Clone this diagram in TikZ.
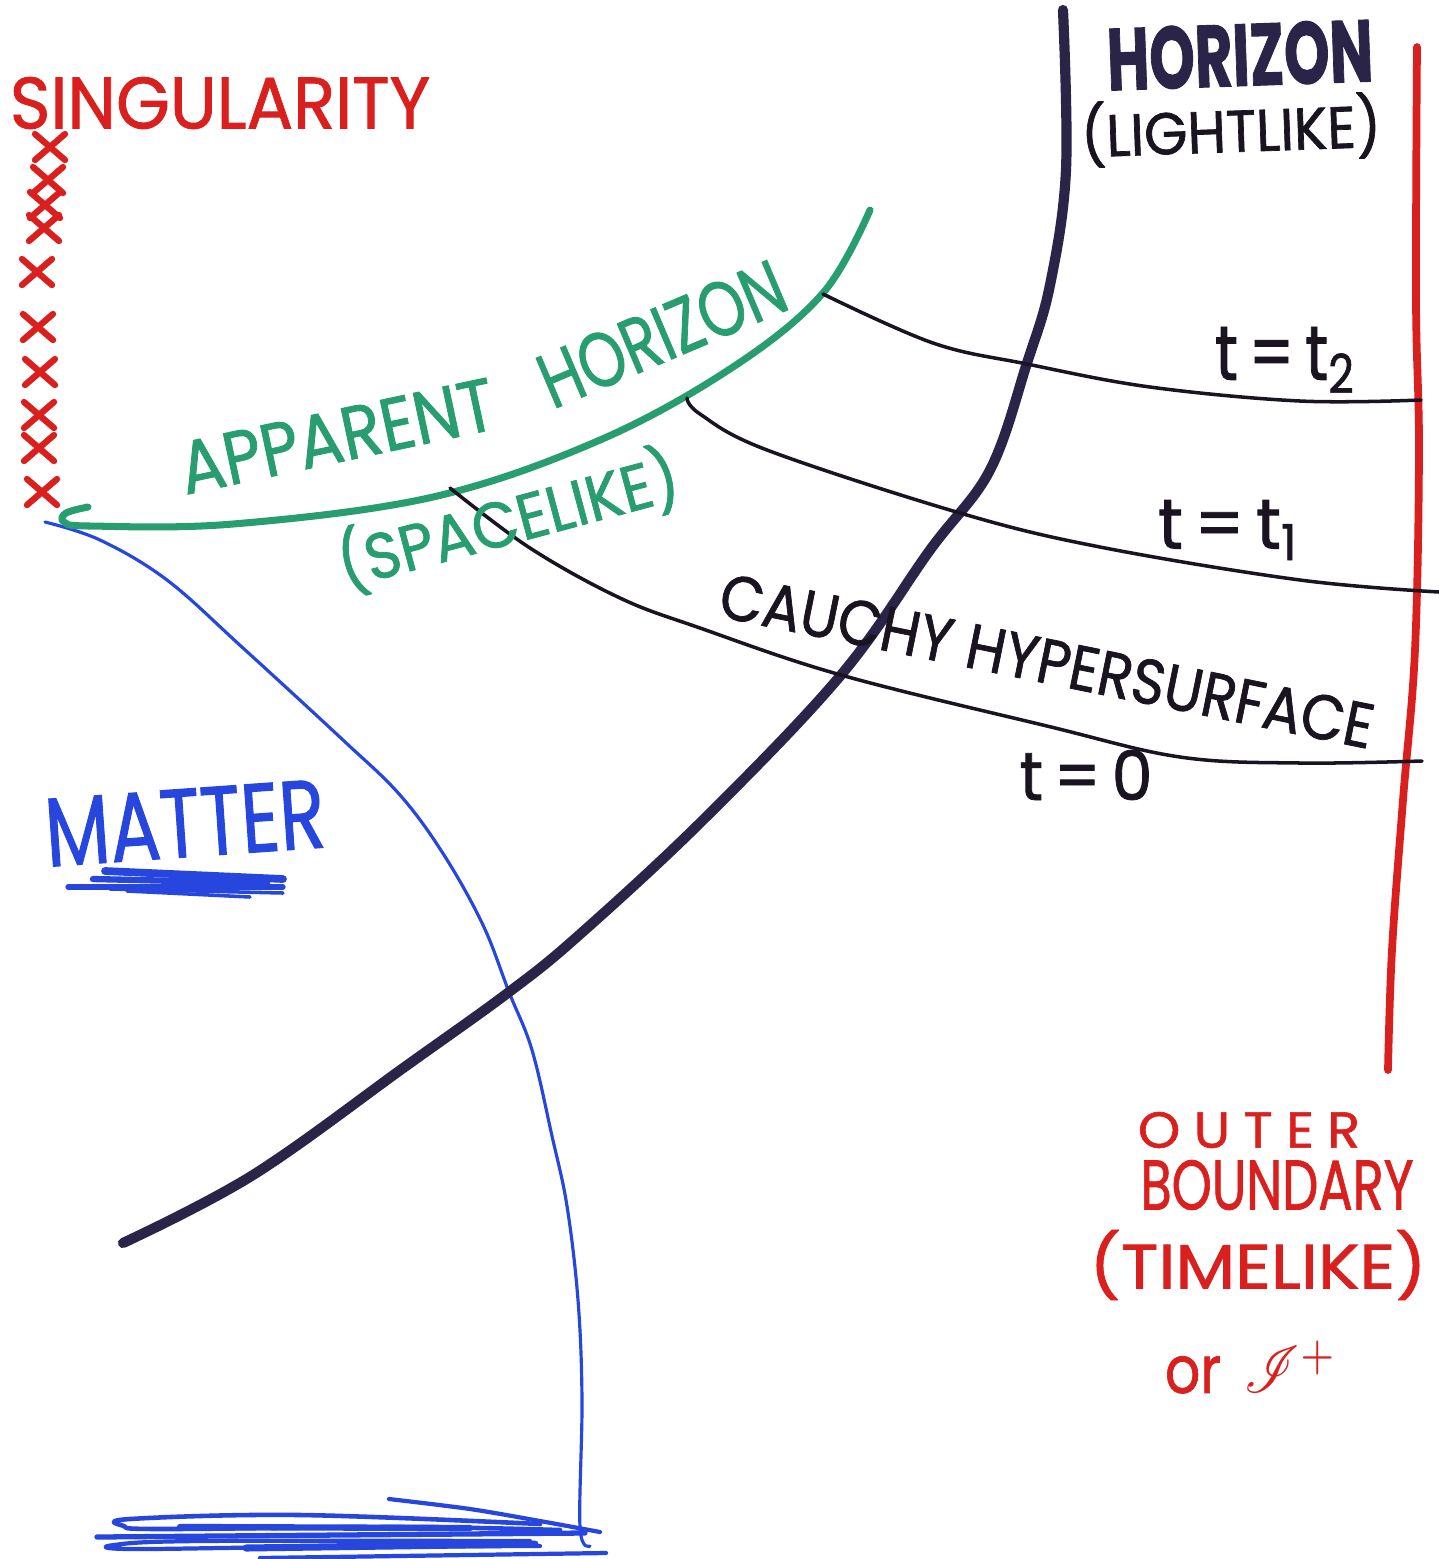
\documentclass[tikz,border=0pt]{standalone}
\usepackage{fontspec}
\usepackage{mathrsfs}
\setmainfont{Poppins}
\newfontfamily\hand[FakeBold=1.2]{Poppins}
\definecolor{hnavy}{RGB}{42,37,72}
\definecolor{bred}{RGB}{218,32,30}
\definecolor{agreen}{RGB}{40,158,112}
\definecolor{mblue}{RGB}{38,70,222}
\definecolor{ink}{RGB}{26,20,32}
\newcommand\fitbox[3]{\resizebox*{#1}{#2}{#3}}
\begin{document}
\begin{tikzpicture}[x=0.01cm,y=-0.01cm,
  lbl/.style={inner sep=0pt, outer sep=0pt, font=\hand},
  horizonline/.style={draw=hnavy, line width=2.9pt, line cap=round, line join=round},
  boundline/.style={draw=bred, line width=2.2pt, line cap=round, line join=round},
  apparentline/.style={draw=agreen, line width=2.0pt, line cap=round, line join=round},
  sliceline/.style={draw=ink, line width=1.0pt, line cap=round, line join=round},
  matterline/.style={draw=mblue, line width=0.9pt, line cap=round, line join=round},
  scribble/.style={draw=mblue, line width=1.5pt, line cap=round, line join=round},
  crossmark/.style={draw=bred, line width=1.8pt, line cap=round}]
\fill[white] (0,0) rectangle (1439,1559);
\useasboundingbox (0,0) rectangle (1439,1559);

% singularity crosses
\foreach \cx/\cy in {50/147, 48/180, 45/205, 44/228, 37/272, 38/327, 40/372, 39/415, 39/448, 42/492}{
  \draw[crossmark] (\cx-15,\cy-13) -- (\cx+15,\cy+13) (\cx+15,\cy-13) -- (\cx-15,\cy+13);
}

% matter world line
\draw[matterline] plot[smooth, tension=0.6] coordinates {(45,522) (100,540) (167,580) (243,648) (343,740) (400,795) (444,855) (483,925) (509,992) (532,1050) (552,1136) (567,1206) (578,1300) (582,1400) (580,1527) (590,1546)};

% matter underline scribble
\draw[scribble, line width=2.2pt] (105,871) -- (283,879);
\draw[scribble] (68,887) -- (283,887);
\draw[scribble, line width=1.8pt] (93,879) -- (267,883);
\draw[scribble, line width=1pt] (110,889) -- (283,893);
\draw[scribble, line width=1pt] (127,891) -- (250,897);

% bottom scribble
\draw[scribble, line width=1.2pt] plot[smooth] coordinates {(389,1499) (470,1509) (540,1521) (600,1532)};
\draw[scribble, line width=1.3pt] plot[smooth, tension=0.6] coordinates {(540,1524) (300,1515) (130,1519) (124,1526) (160,1529) (400,1527) (560,1530)};
\draw[scribble, line width=1.8pt] (180,1527) -- (470,1528);
\draw[scribble] (97,1537) -- (585,1533);
\draw[scribble, line width=1.2pt] plot[smooth, tension=0.6] coordinates {(530,1541) (200,1541) (114,1545) (130,1549) (300,1547) (540,1546)};
\draw[scribble, line width=2pt] (246,1548) -- (535,1544);
\draw[scribble, line width=1.2pt] (260,1558) -- (606,1553);

% event horizon
\draw[horizonline] plot[smooth, tension=0.6] coordinates {(1063,10) (1066,170) (1050,285) (1027,363) (990,470) (930,550) (841,675) (703,820) (578,936) (509,992) (406,1066) (253,1175) (123,1243)};

% outer boundary
\draw[boundline] plot[smooth, tension=0.6] coordinates {(1417,47) (1416,300) (1419,450) (1415,650) (1403,800) (1392,950) (1388,1070)};

% apparent horizon
\draw[apparentline] plot[smooth, tension=0.6] coordinates {(88,507) (66,513) (64,522) (90,526) (233,524) (433,497) (600,440) (733,367) (823,293) (870,210)};

% slices
\draw[sliceline] plot[smooth, tension=0.6] coordinates {(823,294) (933,343) (1027,364) (1150,387) (1300,401) (1421,400)};
\draw[sliceline] plot[smooth, tension=0.6] coordinates {(687,398) (700,414) (767,450) (960,513) (1100,547) (1300,580) (1439,592)};
\draw[sliceline] plot[smooth, tension=0.6] coordinates {(450,488) (530,548) (620,598) (700,628) (841,675) (1047,726) (1180,757) (1300,763) (1422,761)};

% labels
\node[lbl, text=bred] (sing) at (220,103) {\fitbox{4.2cm}{0.52cm}{SINGULARITY}};
\node[lbl, text=hnavy, rotate=2] (hor) at (1240,55) {\fitbox{2.66cm}{0.63cm}{\bfseries HORIZON}};
\node[lbl, text=ink, rotate=2] (light) at (1231,130) {\fitbox{3.0cm}{0.66cm}{(LIGHTLIKE)}};
\node[lbl, text=agreen, rotate=12] (app1) at (337,436) {\fitbox{3.2cm}{0.52cm}{APPARENT}};
\node[lbl, text=agreen, rotate=23] (app2) at (662,334) {\fitbox{2.6cm}{0.55cm}{HORIZON}};
\node[lbl, text=agreen, rotate=15] (space) at (508,520) {\fitbox{3.5cm}{0.72cm}{(SPACELIKE)}};
\node[lbl, text=ink, rotate=-11.5] (cauchy) at (1047,661) {\fitbox{6.65cm}{0.45cm}{CAUCHY HYPERSURFACE}};
\node[lbl, text=ink] (tt2) at (1286,360) {\fitbox{1.42cm}{0.66cm}{t\,=\,t\textsubscript{2}}};
\node[lbl, text=ink] (tt1) at (1229,530) {\fitbox{1.42cm}{0.6cm}{t\,=\,t\textsubscript{1}}};
\node[lbl, text=ink] (tt0) at (1086,775) {\fitbox{1.33cm}{0.5cm}{t\,=\,0}};
\node[lbl, text=mblue, rotate=4] (matter) at (185,823) {\fitbox{2.8cm}{0.68cm}{MATTER}};
\node[lbl, text=bred] (outer) at (1249,1130) {\fitbox{2.22cm}{0.36cm}{\addfontfeature{LetterSpace=25}OUTER}};
\node[lbl, text=bred] (bound) at (1277,1185) {\fitbox{2.73cm}{0.5cm}{BOUNDARY}};
\node[lbl, text=bred] (time) at (1258,1265) {\fitbox{3.37cm}{0.7cm}{(TIMELIKE)}};
\node[lbl, text=bred] (scri) at (1251,1367) {\fitbox{1.72cm}{0.53cm}{or\, $\mathscr{I}^{+}$}};
\end{tikzpicture}
\end{document}
